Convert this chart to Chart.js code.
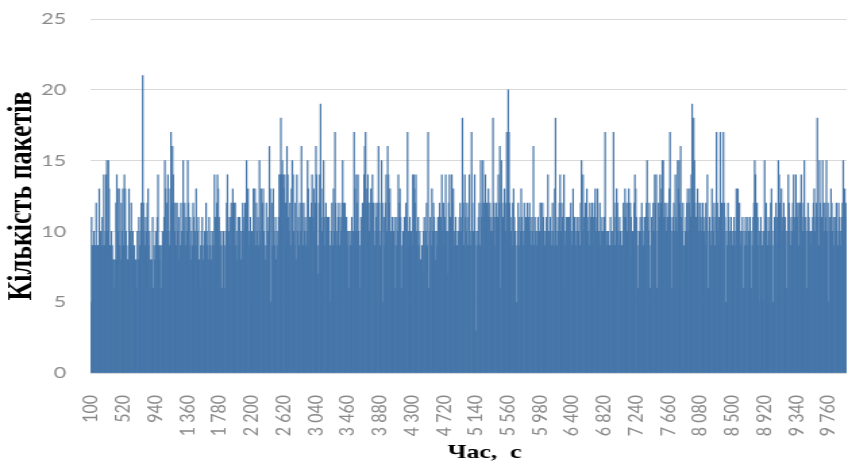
<!DOCTYPE html>
<html>
<head>
<meta charset="utf-8">
<script src="https://cdn.jsdelivr.net/npm/chart.js@4"></script>
<style>
  html, body { margin: 0; padding: 0; background: #fff; overflow: hidden; }
  /* chart is laid out narrow and then widened, like the original export */
  #wrap { width: 628px; height: 465px; transform: scaleX(1.3503); transform-origin: 0 0; }
</style>
</head>
<body>
<div id="wrap"><canvas id="packetsChart"></canvas></div>
<script>
// packets per 10 s interval, starting at t = 100 s
const startTime = 100;
const timeStep = 10;
const labelEvery = 42; // a tick label every 420 s

const packetCounts = [
  5, 11, 9, 9, 10, 9, 9, 12, 9, 9,
  9, 13, 9, 10, 9, 11, 9, 14, 9, 10,
  14, 15, 10, 15, 13, 9, 9, 10, 9, 8,
  8, 6, 8, 12, 14, 13, 10, 13, 9, 8,
  12, 10, 13, 9, 14, 13, 10, 9, 8, 7,
  13, 9, 10, 12, 9, 10, 8, 9, 6, 8,
  6, 10, 8, 11, 9, 10, 12, 10, 21, 12,
  10, 9, 11, 10, 12, 13, 9, 10, 8, 6,
  8, 11, 6, 9, 8, 10, 9, 11, 14, 9,
  8, 9, 6, 9, 10, 8, 11, 15, 13, 10,
  12, 14, 10, 9, 13, 17, 12, 16, 14, 12,
  10, 12, 9, 12, 10, 11, 8, 9, 12, 10,
  9, 15, 10, 12, 9, 11, 10, 15, 12, 9,
  11, 8, 10, 9, 12, 11, 9, 10, 13, 9,
  10, 11, 8, 6, 9, 10, 11, 8, 9, 10,
  9, 12, 10, 9, 8, 11, 9, 10, 8, 9,
  10, 9, 14, 11, 9,
  12, 14, 13, 11, 10, 9, 10, 6, 9, 10,
  9, 6, 10, 12, 14, 11, 10, 9, 11, 12,
  11, 13, 10, 12, 12, 9, 10, 8, 11, 9,
  11, 10, 8, 10, 12, 10, 11, 12, 9, 15,
  12, 13, 10, 9, 11, 5, 10, 9, 13, 10,
  13, 9, 12, 10, 11, 9, 15, 10, 13, 9,
  12, 13, 10, 9, 8, 12, 9, 10, 11, 16,
  13, 5, 12, 9, 13, 10, 9, 11, 8, 10,
  9, 11, 14, 14, 18, 14, 15, 14, 13, 14,
  12, 9, 16, 14, 11, 10, 12, 9, 13, 15,
  14, 10, 9, 12, 8, 14, 10, 11, 9, 12,
  10, 16, 12, 9, 12, 10, 11, 9, 10, 15,
  13, 9, 11, 10, 12, 14, 11, 13, 10, 12,
  16, 14, 9, 7, 12, 14, 19, 13, 10, 11,
  15, 11, 9, 12, 10, 11, 9, 11, 5, 9,
  10, 12, 9, 13, 10, 17, 12, 9, 10, 11,
  12, 9, 11, 10, 12,
  15, 12, 11, 12, 10, 11, 9, 10, 6, 10,
  9, 10, 11, 9, 10, 17, 13, 10, 14, 12,
  14, 10, 9, 6, 11, 10, 12, 10, 14, 16,
  17, 12, 13, 14, 12, 10, 12, 13, 12, 14,
  12, 10, 9, 12, 11, 10, 12, 16, 12, 9,
  10, 15, 12, 5, 11, 9, 12, 14, 10, 16,
  14, 12, 13, 10, 9, 11, 10, 10, 11, 6,
  9, 11, 10, 14, 12, 13, 11, 6, 9, 10,
  8, 11, 9, 12, 11, 17, 10, 9, 11, 10,
  10, 9, 14, 14, 13, 12, 14, 10, 9, 11,
  9, 10, 8, 4, 9, 7, 10, 11, 9, 10,
  12, 9, 17, 6, 10, 11, 9, 13, 10, 12,
  11, 10, 8, 10, 9, 11, 10, 12, 10, 11,
  14, 10, 12, 9, 11, 14, 10, 7, 10, 12,
  14, 11, 10, 14, 12, 13, 10, 9, 11, 10,
  9, 7, 10, 11, 12, 10, 11, 18, 12, 9,
  14, 11, 10, 12, 9,
  11, 14, 10, 9, 17, 12, 10, 9, 14, 10,
  3, 9, 10, 11, 12, 9, 15, 11, 12, 15,
  12, 11, 14, 10, 12, 11, 13, 11, 12, 10,
  11, 10, 18, 12, 9, 11, 12, 10, 11, 14,
  12, 16, 6, 15, 12, 11, 10, 13, 12, 10,
  17, 12, 20, 17, 12, 11, 10, 9, 12, 13,
  11, 10, 9, 5, 10, 12, 9, 11, 10, 13,
  11, 10, 9, 12, 10, 11, 9, 12, 10, 11,
  12, 10, 9, 11, 10, 16, 9, 11, 10, 9,
  10, 11, 9, 10, 12, 12, 10, 12, 11, 10,
  9, 10, 11, 10, 14, 10, 9, 11, 10, 9,
  12, 10, 9, 13, 18, 10, 9, 11, 10, 12,
  14, 10, 12, 11, 6, 14, 10, 9, 11, 10,
  11, 9, 11, 10, 12, 9, 10, 13, 10, 11,
  10, 9, 11, 10, 10, 11, 9, 12, 15, 10,
  14, 11, 9, 12, 10, 13, 11, 10, 9, 12, 11, 10, 12, 9, 11,
  12, 13, 10, 11, 13, 6, 10, 12, 9, 10,
  11, 10, 9, 11, 17, 10, 9, 10, 10, 3,
  9, 11, 10, 9, 10, 17, 12, 9, 11, 13,
  12, 10, 9, 11, 10, 6, 9, 10, 12, 11,
  13, 11, 12, 10, 12, 13, 10, 12, 11, 8,
  10, 9, 12, 14, 13, 11, 10, 6, 9, 10,
  11, 10, 12, 11, 9, 10, 11, 9, 12, 15,
  11, 10, 12, 6, 9, 11, 10, 12, 10, 14,
  12, 14, 6, 10, 12, 11, 14, 12, 13, 15,
  15, 11, 12, 11, 10, 12, 11, 9, 13, 17,
  11, 6, 10, 11, 12, 10, 14, 11, 10, 15,
  13, 15, 12, 16, 11, 10, 12, 9, 7, 10,
  11, 12, 13, 10, 12, 13, 11, 14, 19, 12,
  18, 15, 12, 11, 10, 13, 12, 10, 11, 12,
  10, 11, 12, 11, 10, 9, 12, 11, 14, 6,
  10, 11, 10, 9, 13, 11, 10, 12, 9, 11,
  17, 12, 10, 11, 9,
  17, 11, 12, 10, 17, 12, 11, 5, 10, 9,
  12, 11, 10, 9, 11, 10, 9, 10, 11, 9,
  10, 13, 12, 13, 11, 12, 10, 9, 10, 11,
  6, 10, 9, 11, 10, 9, 11, 10, 9, 11,
  10, 6, 9, 11, 12, 15, 14, 10, 12, 11,
  9, 10, 5, 11, 10, 9, 5, 10, 15, 11,
  12, 10, 9, 11, 10, 9, 12, 13, 10, 5,
  9, 11, 10, 12, 11, 9, 15, 14, 12, 10,
  13, 11, 10, 12, 9, 11, 10, 6, 10, 14,
  12, 10, 9, 11, 10, 12, 14, 11, 10, 14,
  12, 11, 12, 9, 12, 12, 14, 11, 10, 12,
  15, 10, 11, 6, 10, 12, 11, 10, 9, 10,
  10, 11, 12, 13, 10, 11, 12, 18, 11, 9,
  15, 12, 10, 11, 15, 12, 10, 12, 11, 15,
  10, 12, 5, 11, 10, 13, 12, 10, 11, 9,
  11, 10, 12, 10, 9, 12, 11, 10, 9, 11,
  12, 15, 10, 13, 11, 12
];

const times = packetCounts.map((_, i) => startTime + i * timeStep);

// 1360 -> "1 360"
function formatTime(t) {
  if (t < 1000) return String(t);
  return Math.floor(t / 1000) + '\u00a0' + String(t % 1000).padStart(3, '0');
}

const tickFont = { family: 'Lato', size: 16 };
const titleFont = { family: 'Liberation Serif', weight: 'bold' };

new Chart(document.getElementById('packetsChart'), {
  type: 'bar',
  data: {
    labels: times,
    datasets: [{
      data: packetCounts,
      backgroundColor: '#4676a9',
      borderWidth: 0,
      barPercentage: 1,
      categoryPercentage: 1
    }]
  },
  options: {
    responsive: true,
    maintainAspectRatio: false,
    animation: false,
    layout: { padding: { top: 19, right: 1, left: 0, bottom: 0 } },
    plugins: { legend: { display: false }, tooltip: { enabled: false } },
    scales: {
      x: {
        afterFit: (scale) => {
          scale.height = 92;
          scale.paddingLeft = 0;
          scale.paddingRight = 0;
        },
        grid: { display: false },
        border: { display: false },
        ticks: {
          autoSkip: false,
          minRotation: 90,
          maxRotation: 90,
          padding: 14,
          color: '#898989',
          font: tickFont,
          callback: (value, index) => index % labelEvery === 0 ? formatTime(times[index]) : null
        },
        title: {
          display: true,
          text: '\u00a0\u00a0\u00a0\u00a0\u00a0Час,  с',
          color: '#000',
          font: { ...titleFont, size: 19 },
          padding: { top: 0, bottom: 1 }
        }
      },
      y: {
        min: 0,
        max: 25,
        afterFit: (scale) => {
          scale.width = 67;
          scale.paddingTop = 0;
          scale.paddingBottom = 0;
        },
        grid: { color: '#d9d9d9', drawTicks: false },
        border: { display: false },
        ticks: {
          stepSize: 5,
          padding: 18,
          color: '#898989',
          font: tickFont
        },
        title: {
          display: true,
          text: 'Кількість пакетів',
          color: '#000',
          font: { ...titleFont, size: 26 },
          padding: { top: 1, bottom: 0 }
        }
      }
    }
  }
});
</script>
</body>
</html>
